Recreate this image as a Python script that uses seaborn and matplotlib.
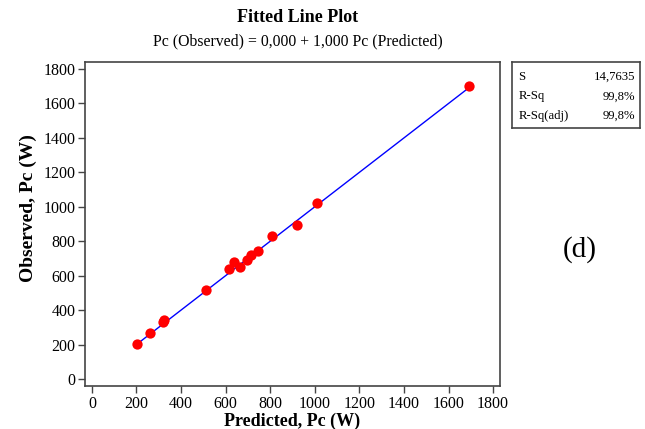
import numpy as np
import pandas as pd
import seaborn as sns
import matplotlib.pyplot as plt

# valores
predicted = [202, 260, 320, 323, 512, 616, 637, 664, 697, 712, 744, 809, 919, 1008, 1692]
observed = [205, 266, 330, 343, 515, 638, 678, 649, 690, 722, 742, 828, 897, 1022, 1700]
intercept = 0.0
slope = 1.0
stats_names = ["S", "R-Sq", "R-Sq(adj)"]
stats_values = ["14,7635", "99,8%", "99,8%"]
ticks = [0, 200, 400, 600, 800, 1000, 1200, 1400, 1600, 1800]

df = pd.DataFrame({"pred": predicted, "obs": observed})
xs = np.array([min(predicted), max(predicted)])
fit = pd.DataFrame({"pred": xs, "obs": intercept + slope * xs})

sns.set_style("ticks")
plt.rcParams["font.family"] = ["Liberation Serif", "DejaVu Serif"]
plt.rcParams["text.color"] = "black"
plt.rcParams["axes.labelcolor"] = "black"
plt.rcParams["xtick.labelcolor"] = "black"
plt.rcParams["ytick.labelcolor"] = "black"

fig = plt.figure(figsize=(6.45, 4.29), dpi=100)
ax = fig.add_axes([85 / 645, 1 - 386 / 429, 415 / 645, 324 / 429])

sns.lineplot(data=fit, x="pred", y="obs", color="blue", lw=1, ax=ax)
sns.scatterplot(data=df, x="pred", y="obs", color="red", s=55, edgecolor="red",
                linewidth=0, zorder=3, ax=ax)

ax.set_xlim(-31, 1831)
ax.set_ylim(-41, 1841)
ax.set_xticks(ticks)
ax.set_yticks(ticks)
ax.tick_params(labelsize=11.5, length=5, width=1, color="#444444", pad=2)
for s in ax.spines.values():
    s.set_color("#444444")
    s.set_linewidth(1.2)
ax.set_xlabel("Predicted, Pc (W)", fontsize=13, fontweight="bold", labelpad=1)
ax.set_ylabel("Observed, Pc (W)", fontsize=14, fontweight="bold")
ax.yaxis.set_label_coords(-0.115, 0.55)

cx = 298 / 645
fig.text(cx, 1 - 18 / 429, "Fitted Line Plot",
         ha="center", va="center", fontsize=13, fontweight="bold")
fig.text(cx, 1 - 41 / 429,
         "Pc (Observed) = 0,000 + 1,000 Pc (Predicted)",
         ha="center", va="center", fontsize=11.3)

# cuadro de estadísticas
box = fig.add_axes([512 / 645, 1 - 128 / 429, 128 / 645, 66 / 429])
box.set_xticks([])
box.set_yticks([])
for s in box.spines.values():
    s.set_color("#444444")
    s.set_linewidth(1.2)
for i, (n, v) in enumerate(zip(stats_names, stats_values)):
    yy = 0.78 - i * 0.3
    box.text(0.05, yy, n, ha="left", va="center", fontsize=9.2, transform=box.transAxes)
    box.text(0.96, yy, v, ha="right", va="center", fontsize=9.2, transform=box.transAxes)

fig.text(580 / 645, 1 - 250 / 429, "(d)", ha="center", va="center", fontsize=21)

fig.savefig("out.png", dpi=100)
